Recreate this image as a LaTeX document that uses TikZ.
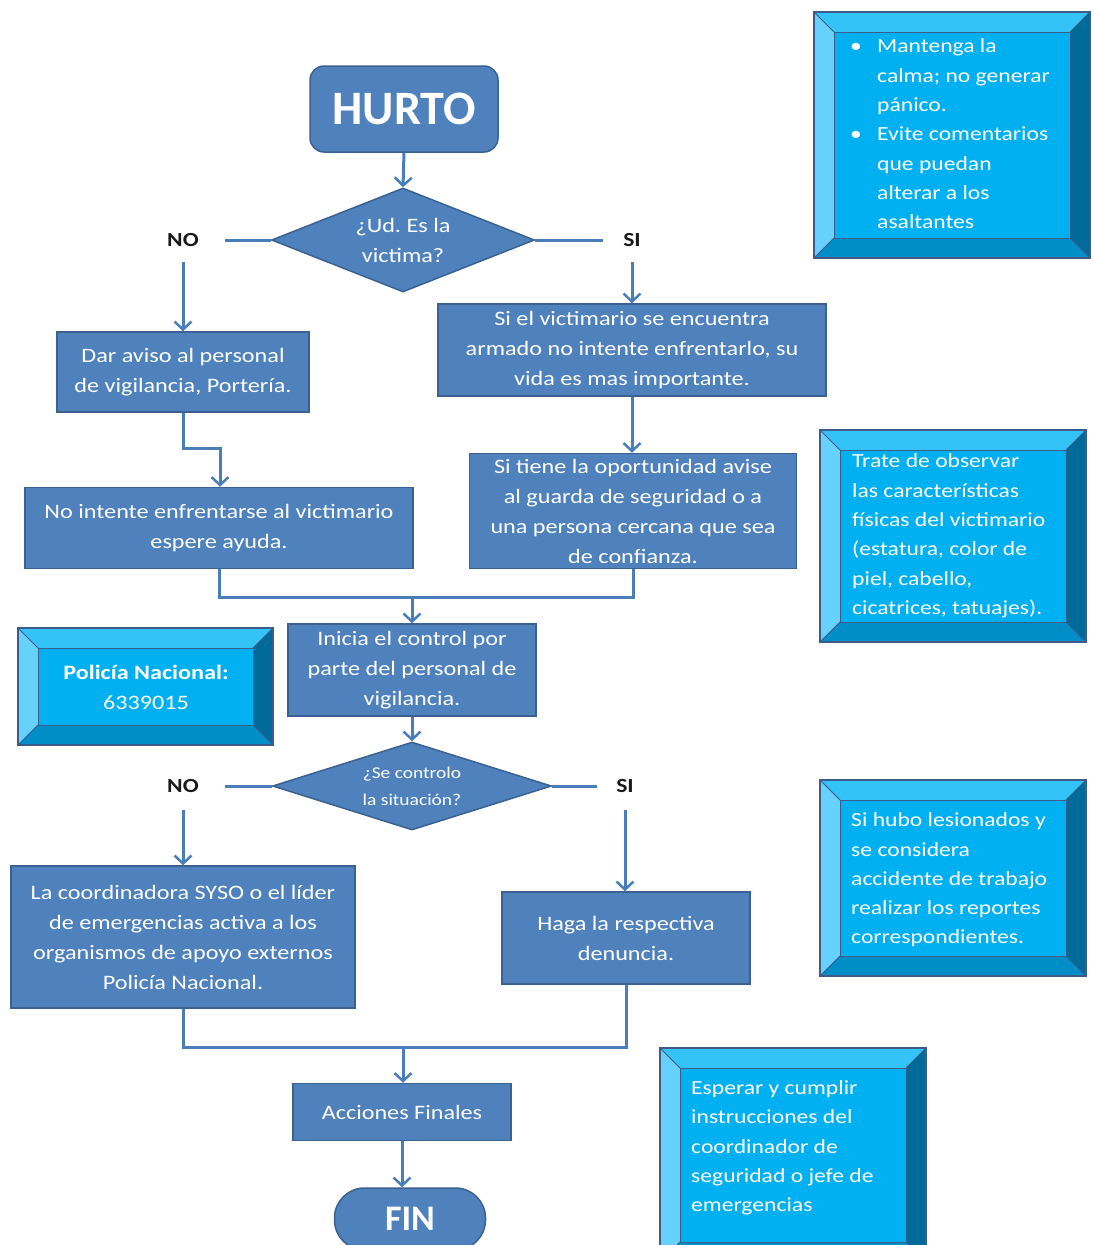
\documentclass[tikz,border=0pt]{standalone}
\usepackage{fontspec}
\setmainfont{Carlito}[FakeStretch=1.18]
\newfontfamily\titlef{Carlito}
\frenchspacing
\usetikzlibrary{shapes.geometric,arrows.meta,calc}
\definecolor{boxfill}{HTML}{4F81BD}
\definecolor{boxline}{HTML}{3A6190}
\definecolor{conn}{HTML}{4A7EBB}
\definecolor{bvC}{HTML}{00B0F0}
\definecolor{bvT}{HTML}{33C3F6}
\definecolor{bvL}{HTML}{66D1FA}
\definecolor{bvR}{HTML}{006A99}
\definecolor{bvB}{HTML}{008EC6}
\definecolor{bvEdge}{HTML}{3E5C8A}
\definecolor{lbl}{HTML}{1A1A1A}
\newcommand\bevelbox[4]{%
  \fill[bvC] (#1,#2) rectangle (#3,#4);
  \fill[bvT] (#1,#2) -- (#3,#2) -- (#3-20,#2+20) -- (#1+20,#2+20) -- cycle;
  \fill[bvL] (#1,#2) -- (#1+20,#2+20) -- (#1+20,#4-20) -- (#1,#4) -- cycle;
  \fill[bvR] (#3,#2) -- (#3,#4) -- (#3-20,#4-20) -- (#3-20,#2+20) -- cycle;
  \fill[bvB] (#1,#4) -- (#1+20,#4-20) -- (#3-20,#4-20) -- (#3,#4) -- cycle;
  \draw[bvEdge, line width=0.8pt] (#1,#2) -- (#1+20,#2+20) (#3,#2) -- (#3-20,#2+20)
     (#1,#4) -- (#1+20,#4-20) (#3,#4) -- (#3-20,#4-20);
  \draw[bvEdge, line width=0.5pt] (#1+20,#2+20) rectangle (#3-20,#4-20);
  \draw[bvEdge, line width=2pt] (#1,#2) rectangle (#3,#4);
}
\tikzset{
  box/.style={draw=boxline, line width=1.5pt, fill=boxfill, text=white,
    font=\fontsize{20.5}{30}\selectfont, align=center, inner sep=0pt},
  dec/.style={box, shape=diamond, aspect=2.5},
  lab/.style={text=lbl, font=\bfseries\fontsize{20}{24}\selectfont, inner sep=0pt},
  bvtext/.style={text=white, font=\fontsize{20}{29.3}\selectfont, align=left, inner sep=0pt, anchor=west},
  conn/.style={draw=conn, line width=3pt},
  arr/.style={conn, -{Straight Barb[length=8pt,width=17pt,line width=2.5pt]}}
}
\begin{document}
\begin{tikzpicture}[x=1pt,y=-1pt]
\useasboundingbox (0,0) rectangle (1094,1245);

% bevel boxes
\bevelbox{814}{12}{1090}{258}
\node[bvtext] (t1) at (850,134) {\makebox[27pt][l]{\textbullet}Mantenga la\\
  \hspace*{27pt}calma; no generar\\ \hspace*{27pt}pánico.\\
  \makebox[27pt][l]{\textbullet}Evite comentarios\\ \hspace*{27pt}que puedan\\
  \hspace*{27pt}alterar a los\\ \hspace*{27pt}asaltantes};
\bevelbox{820}{430}{1086}{642}
\node[bvtext] (t2) at (852,536) {Trate de observar\\ las características\\ físicas del victimario\\
  (estatura, color de\\ piel, cabello,\\ cicatrices, tatuajes).};
\bevelbox{18}{628}{273}{745}
\node[text=white, font=\fontsize{20.5}{30}\selectfont, align=center, inner sep=0pt] (t3) at (146,687)
  {\textbf{Policía Nacional:}\\ 6339015};
\bevelbox{820}{780}{1086}{976}
\node[bvtext] (t4) at (851,880) {Si hubo lesionados y\\ se considera\\ accidente de trabajo\\
  realizar los reportes\\ correspondientes.};
\bevelbox{660}{1048}{926}{1262}
\node[bvtext] (t5) at (691,1148) {Esperar y cumplir\\ instrucciones del\\ coordinador de\\
  seguridad o jefe de\\ emergencias};

% flow nodes
\node[box, rounded corners=14pt, minimum width=188pt, minimum height=86pt,
  font=\titlef\bfseries\fontsize{48}{50}\selectfont] (hurto) at (404,109) {HURTO};
\node[dec, minimum width=263pt, minimum height=104pt] (d1) at (403,240) {¿Ud. Es la\\ victima?};
\node[lab] (no1) at (183,240) {NO};
\node[lab] (si1) at (632,240) {SI};
\coordinate (no1e) at (225,240);
\coordinate (si1w) at (603,240);
\coordinate (no1s) at (183,262);
\coordinate (si1s) at (632,262);

\node[box, minimum width=252pt, minimum height=80pt] (dar) at (183,372)
  {Dar aviso al personal\\ de vigilancia, Portería.};
\node[box, minimum width=388pt, minimum height=92pt] (armado) at (632,350)
  {Si el victimario se encuentra\\ armado no intente enfrentarlo, su\\ vida es mas importante.};
\node[box, minimum width=388pt, minimum height=81pt] (noint) at (219,528)
  {No intente enfrentarse al victimario\\ espere ayuda.};
\node[box, minimum width=327pt, minimum height=115pt] (oport) at (633,511)
  {Si tiene la oportunidad avise\\ al guarda de seguridad o a\\ una persona cercana que sea\\ de confianza.};
\node[box, minimum width=248pt, minimum height=92pt] (inicia) at (412,670)
  {Inicia el control por\\ parte del personal de\\ vigilancia.};
\node[dec, minimum width=279pt, minimum height=88pt, font=\fontsize{16.5}{27}\selectfont] (d2) at (412,786)
  {¿Se controlo\\ la situación?};
\node[lab] (no2) at (183,786) {NO};
\node[lab] (si2) at (625,786) {SI};
\coordinate (no2e) at (225,786);
\coordinate (si2w) at (597,786);
\coordinate (no2s) at (183,810);
\coordinate (si2s) at (625,810);
\node[box, minimum width=344pt, minimum height=142pt] (coord) at (183,937)
  {La coordinadora SYSO o el líder\\ de emergencias activa a los\\ organismos de apoyo externos\\ Policía Nacional.};
\node[box, minimum width=248pt, minimum height=92pt] (haga) at (626,938)
  {Haga la respectiva\\ denuncia.};
\node[box, minimum width=218pt, minimum height=57pt] (acc) at (402,1112) {Acciones Finales};
\node[box, rounded corners=30pt, minimum width=151pt, minimum height=62pt,
  font=\titlef\bfseries\fontsize{36}{40}\selectfont] (fin) at (410,1219) {FIN};

% connectors
\draw[arr] (hurto.south) -- (d1.north);
\draw[conn] (d1.west) -- (no1e);
\draw[conn] (d1.east) -- (si1w);
\draw[arr] (no1s) -- (dar.north);
\draw[arr] (si1s) -- (armado.north);
\draw[arr] (dar.south) -- ++(0,36) -| ([xshift=1pt]noint.north);
\draw[arr] (armado.south) -- (oport.north -| armado.south);
\coordinate (j1) at (412,597);
\draw[conn] (noint.south) |- (j1) -| (oport.south);
\draw[arr] (j1) -- (inicia.north);
\draw[arr] (inicia.south) -- (d2.north);
\draw[conn] (d2.west) -- (no2e);
\draw[conn] (d2.east) -- (si2w);
\draw[arr] (no2s) -- (coord.north);
\draw[arr] (si2s) -- (haga.north -| si2s);
\coordinate (j2) at (403,1047);
\draw[conn] (coord.south) |- (j2) -| (haga.south);
\draw[arr] (j2) -- (acc.north -| j2);
\draw[arr] (acc.south) -- (fin.north -| acc.south);
\end{tikzpicture}
\end{document}
